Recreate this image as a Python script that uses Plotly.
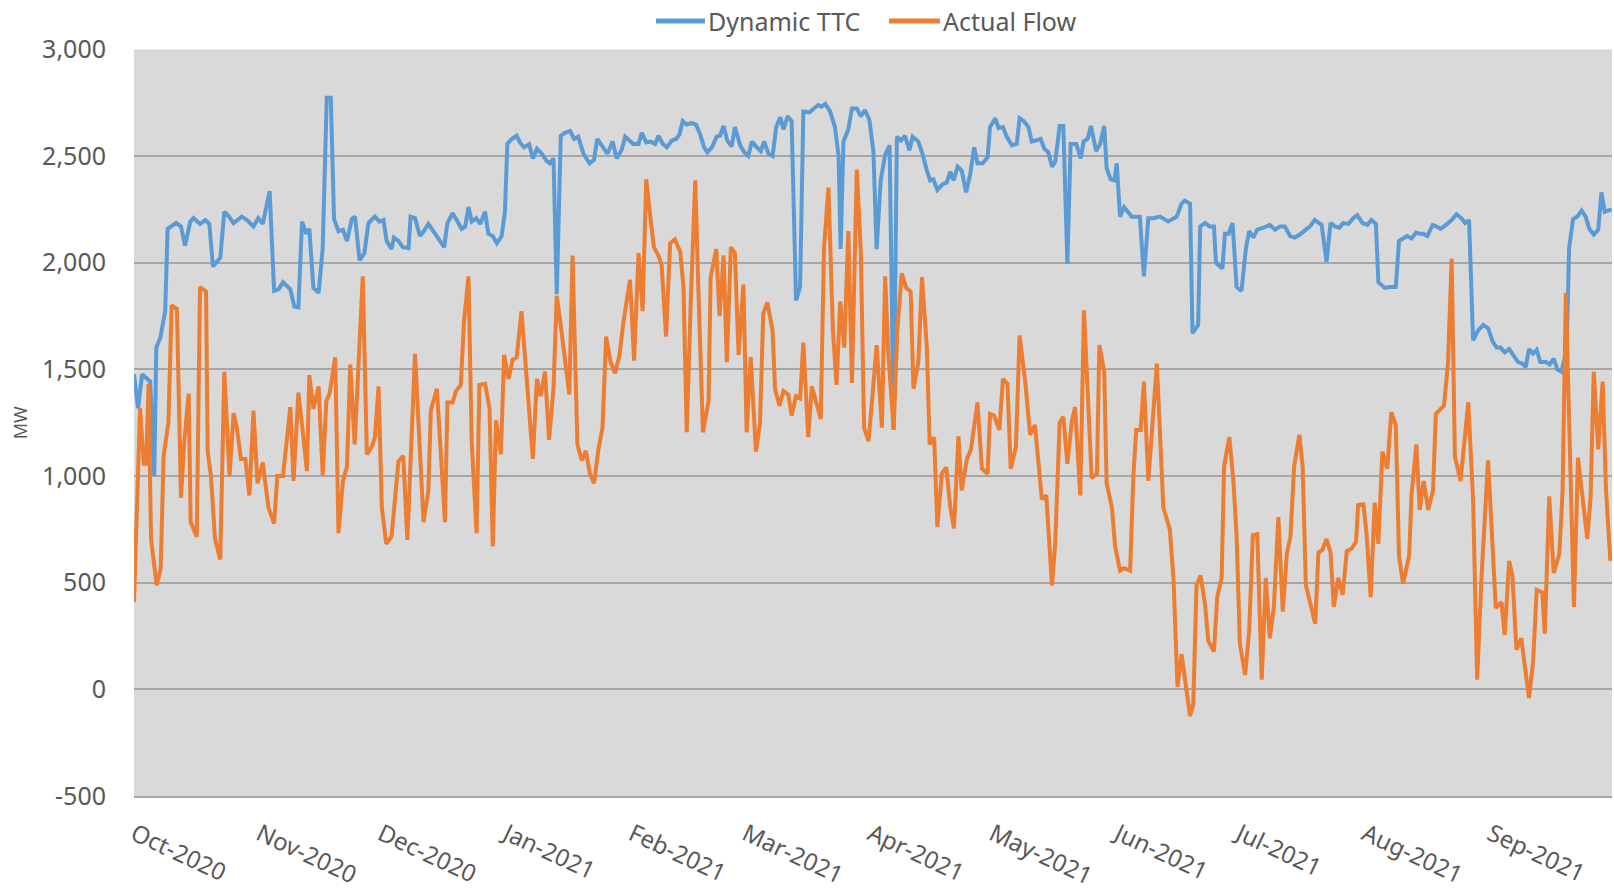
import pandas as pd
import plotly.graph_objects as go

# ---- data (day offset from 2020-10-01, MW) ----
start_date = "2020-10-01"

ttc_day = [0, 1, 2, 4, 5, 5.5, 6.5, 7.7, 8.3, 9.3, 10.4, 11.6, 12.6, 13.9, 14.7, 16.3, 17.6, 18.6, 19.5, 21.3,
           22.3, 23.3, 24.6, 26.6, 27.9, 29.5, 30.7, 31.8, 33.5, 34.6, 35.7, 36.8, 38.6, 39.6, 40.6, 41.5, 42.5, 43.3,
           44.3, 45.6, 46.6, 47.6, 48.6, 49.4, 50.5, 51.6, 52.6, 53.8, 54.6, 55.7, 56.9, 57.9, 59.5,
           60.6, 61.6, 62.4, 63.6, 64.2, 65.3, 66.4, 67.8, 68.3, 69.4, 70.6, 71.6, 72.7, 73.9, 75.2, 76.6, 77.4, 78.7,
           79.9, 80.9, 81.8, 82.6, 83.4, 84.5, 85.5, 86.7, 87.5, 88.6, 89.6, 90.8, 91.6, 92.2, 93.3, 94.5, 95.3, 96.3,
           97.6, 98.5, 99.5, 100.7, 101.9, 102.7, 103.6, 104.4, 105.4, 106.4, 107.7, 108.7, 109.7, 111, 112.5, 113.6,
           114.4, 115.7, 116.9, 118.2, 119.2, 120.4,
           121.3, 123.3, 124.6, 125.4, 126.5, 127.5, 128.7, 129.5, 130.6, 131.6, 132.8, 133.9, 134.7, 135.5, 136.5,
           137.7, 138.8, 139.8, 140.8, 141.6, 142.7, 143.9, 144.7, 145.6, 146.5, 147.6, 148.4, 149.7, 150.7, 151.7,
           152.6, 153.8, 154.8, 155.6, 156.7, 157.7, 158.6, 159.6, 160.4, 161.4, 162.4, 163.5, 164.5, 165.3, 166.8,
           167.9, 169, 169.8, 170.7, 171.9, 173.1, 174, 174.5, 175.2, 176.4, 177.3, 178.5, 179.5, 180.5, 181.6, 182.6,
           183.4, 184.4, 185.5, 186.6, 187.6, 188.4, 189.4, 190.4, 191.5, 192.3, 193.7, 194.8, 195.8, 196.6, 197.4,
           198.4, 199.7, 200.7, 201.6, 202.4, 203.4, 204.4, 205.5, 206.5, 207.5, 208.3, 209.6, 210.8, 211.4, 212.7,
           213.5, 214.6, 215.5, 216.8, 218, 218.7, 219.7, 220.9, 221.7, 223, 223.9, 224.8, 225.8, 226.7, 227.5, 228.6,
           229.5, 230.5, 231.3, 232.7, 233.8, 234.5, 235.5, 236.3, 237.6, 238.6, 239.6, 240.2, 241.2, 242.1, 242.7,
           243.5, 244.5,
           246.4, 248.4, 249.4, 250.5, 251.7, 253.4, 255.4, 257.5, 258.7, 259.5, 260.8, 261.4, 262.8, 263.3, 264.5,
           265.6, 266.7, 267.2, 268.8, 269.4, 270.3, 271.3, 272.3, 273.5, 274.6, 275.4, 276.4, 277.4, 278.9, 280.5,
           281.8, 283, 284.2, 285.5, 286.7, 287.9, 289.4, 290.4, 291.6, 293.3, 294.5, 295.5, 296.6, 297.7, 298.6,
           299.9, 301.1, 302.1, 303.4, 304.6, 305.6,
           306.7, 307.3, 308.9, 310.1, 311.6, 312.4, 313.4, 314.4, 315.5, 316.6, 317.5, 318.4, 319.4, 320.7, 321.7,
           322.7, 324, 325.4, 326.6, 327.8, 328.7, 329.7, 330.7, 331.9, 333.2, 334.4, 335.5, 336.5, 337.5, 338.5,
           339.6, 340.8, 341.8, 342.9, 343.7, 344.5, 345.5, 346.4, 347.3, 348.7, 349.6, 350.6, 351.5, 352.5, 353.8,
           354.4, 355.4, 356.4, 357.5, 358.5, 359.4, 360.5, 361.6, 362.4, 363.2, 364.9]

ttc_mw = [1477, 1318, 1477, 1443, 1000, 1602, 1648, 1773, 2159, 2170, 2186, 2170, 2080, 2193, 2209, 2182, 2200, 2182,
          1982, 2023, 2239, 2220, 2186, 2216, 2200, 2170, 2209, 2182, 2336, 1868, 1875, 1909, 1875, 1795, 1791, 2193,
          2136, 2159, 1882, 1859, 2068, 2773, 2773, 2205, 2148, 2155, 2102, 2205, 2216, 2011, 2045, 2186, 2216,
          2193, 2200, 2102, 2064, 2118, 2102, 2073, 2068, 2216, 2209, 2125, 2148, 2182, 2148, 2118, 2073, 2186, 2232,
          2193, 2159, 2170, 2261, 2193, 2209, 2182, 2239, 2136, 2125, 2091, 2125, 2239, 2557, 2580, 2595, 2564, 2541,
          2555, 2489, 2534, 2511, 2477, 2466, 2489, 1852, 2595, 2609, 2618, 2580, 2591, 2511, 2466, 2482, 2580, 2541,
          2511, 2568, 2489, 2527,
          2591, 2557, 2557, 2609, 2564, 2568, 2557, 2595, 2557, 2541, 2573, 2580, 2602, 2664, 2648, 2655, 2648, 2602,
          2541, 2518, 2541, 2591, 2595, 2641, 2573, 2545, 2636, 2550, 2518, 2500, 2568, 2541, 2523, 2568, 2511, 2500,
          2636, 2682, 2625, 2686, 2664, 1823, 1886, 2709, 2705, 2723, 2739, 2732, 2745, 2709, 2636, 2500, 2064, 2568,
          2625, 2723, 2723, 2686, 2716, 2670, 2523,
          2064, 2386, 2505, 2550, 1216, 2591, 2573, 2595, 2527, 2591, 2568, 2505, 2432, 2386, 2391, 2341, 2368, 2375,
          2427, 2386, 2450, 2432, 2330, 2414, 2541, 2466, 2466, 2495, 2636, 2677, 2632, 2636, 2591, 2550, 2557, 2677,
          2664, 2636, 2568, 2573, 2580, 2534, 2518, 2450, 2473, 2641, 2641, 1995, 2557, 2557, 2489, 2568, 2580, 2641,
          2523, 2557, 2641, 2443, 2391, 2386, 2466, 2216, 2261,
          2216, 2216, 1936, 2209, 2209, 2216, 2193, 2216, 2277, 2291, 2277, 1670, 1709, 2170, 2186, 2170, 2170, 2000,
          1973, 2136, 2136, 2186, 1886, 1868, 2068, 2148, 2118, 2155, 2164, 2177, 2155, 2170, 2170, 2125, 2118, 2132,
          2155, 2170, 2200, 2177, 2005, 2186, 2170, 2164, 2186, 2182, 2209, 2223, 2186, 2177, 2200,
          2182, 1909, 1882, 1886, 1886, 2102, 2114, 2125, 2114, 2141, 2136, 2136, 2125, 2177, 2170, 2159, 2177, 2200,
          2227, 2209, 2186, 2200, 1636, 1682, 1709, 1693, 1632, 1602, 1602, 1580, 1595, 1564, 1534, 1527, 1511, 1595,
          1573, 1591, 1534, 1534, 1523, 1550, 1500, 1489, 1591, 2068, 2205, 2216, 2245, 2216, 2159, 2132, 2155, 2330,
          2239, 2250]

flow_day = [0, 1.5, 2.4, 3, 3.6, 4.2, 5.6, 6.6, 7.3, 8.5, 9.3, 10.6, 11.6, 12.4, 13.5, 14, 15.5, 16.3, 17.8, 18.2,
            19, 20, 21.3, 22.3, 23.6, 24.6, 25.4, 26.4, 27.5, 28.5, 29.5, 30.5, 31.8, 33.2, 34.6, 35.4, 36.8, 38.6,
            39.4, 40.6, 41.9, 42.7, 43.3, 44.3, 45.6, 46.6, 47.5, 48.3, 49.7, 50.5, 51.6, 52.6, 53.4, 54.5, 55.5,
            56.5, 57.5, 58.7, 59.5,
            60.4, 61.2, 62.3, 63.6, 65.3, 66.5, 67.5, 69.4, 71.5, 72.7, 73.3, 74.8, 76.8, 77.4, 78.7, 79.5, 80.7,
            81.5, 82.6, 83.4, 84.6, 85.3, 86.7, 87.8, 88.6, 89.4, 90.6, 91.4, 92.5, 93.5, 94.5, 95.7, 97.1, 98.5,
            99.5, 100.4, 101.5, 102.5, 103.6, 104.4, 105.4, 106.7, 107.5, 108.3, 109.5, 110.6, 111.6, 112.6, 113.6,
            114.7, 115.7, 116.6, 117.7, 118.8, 119.9, 120.9,
            122.5, 123.5, 124.6, 125.6, 126.5, 127.5, 128.4, 129.5, 130.3, 131.4, 132.4, 133.6, 134.9, 135.7, 136.5,
            137.5, 138.6, 139.4, 140.5, 141.9, 142.4, 143.8, 144.6, 145.6, 146.4, 147.4, 148.4, 149.3, 150.5, 151.3,
            152.3, 153.6, 154.6, 155.4, 156.4, 157.7, 158.3, 159.4, 160.4, 161.6, 162.4, 163.5, 164.5, 165.3, 166.5,
            167.4, 168.6, 169.6, 170.4, 171.5, 172.6, 173.5, 174.4, 175.4, 176.4, 177.3, 178.5, 179.5, 180.3, 181.4,
            182.4,
            183.4, 184.7, 185.5, 186.3, 187.6, 188.5, 189.6, 190.7, 191.8, 192.5, 193.7, 194.6, 195.8, 196.5, 197.6,
            198.4, 199.5, 200.6, 201.6, 202.5, 203.6, 204.4, 205.7, 206.7, 207.5, 208.3, 209.4, 210.8, 211.4, 212.4,
            213.7, 214.6, 215.7, 216.5, 217.8, 218.7, 220.1, 221.3, 222.5, 224.2, 225.3, 226.7, 227.5, 228.6, 229.5,
            230.5, 231.6, 232.4, 233.7, 234.6, 236.5, 237.8, 238.4, 239.6, 240.2, 241.5, 242.3, 243.5, 244.5,
            246, 246.8, 247.5, 248.6, 249.4, 250.5, 251.3, 252.6, 254.2, 255.8, 256.7, 257.7, 258.7, 259.8, 260.8,
            261.6, 262.4, 263.4, 264.5, 265.3, 266.7, 267.5, 268.6, 269.2, 270.5, 271.5, 272.3, 273.1, 274.4, 275.4,
            276.3, 277.4, 278.5, 279.5, 280.5, 281.5, 282.6, 283.7, 284.7, 285.6, 286.5, 287.8, 288.6, 289.4, 290.6,
            291.7, 292.5, 293.5, 294.5, 295.5, 296.3, 297.4, 298.5, 299.5, 300.7, 301.8, 302.3, 303.6, 304.4, 305.4,
            306.4, 307.3, 308.3, 309.5, 310.5, 311.6, 312.4, 313.4, 314.9, 315.5, 316.7, 317.5, 318.5, 319.6, 320.8,
            321.5, 323.5, 324.5, 325.4, 326.2, 327.6, 329.5, 330.7, 331.7, 332.8, 334.4, 336.3, 337.7, 338.5, 339.6,
            340.4, 341.4, 342.6, 344.5, 345.5, 346.4, 347.8, 348.4, 349.5, 350.6, 352, 352.8, 353.6, 355.6, 356.6,
            357.7, 358.9, 359.7, 360.5, 361.6, 362.7, 363.5, 364.6]

flow_mw = [409, 1318, 1057, 1057, 1432, 705, 488, 568, 1091, 1250, 1800, 1784, 898, 1159, 1386, 784, 716, 1886, 1864,
           1114, 1000, 705, 609, 1489, 1000, 1295, 1227, 1080, 1080, 909, 1307, 966, 1064, 852, 777, 1000, 1000, 1323,
           977, 1391, 1170, 1023, 1473, 1314, 1420, 1004, 1352, 1386, 1557, 732, 977, 1045, 1523, 1148, 1545, 1936,
           1102, 1136, 1182,
           1420, 852, 682, 716, 1068, 1095, 700, 1573, 784, 932, 1307, 1409, 784, 1345, 1345, 1398, 1427, 1727, 1936,
           1159, 732, 1427, 1432, 1318, 670, 1261, 1102, 1568, 1455, 1545, 1557, 1773, 1432, 1080, 1455, 1375, 1489,
           1170, 1409, 1845, 1705, 1500, 1382, 2034, 1148, 1073, 1118, 1011, 966, 1125, 1227, 1654, 1534, 1482, 1568,
           1727,
           1920, 1541, 2045, 1773, 2391, 2216, 2073, 2034, 1989, 1654, 2091, 2109, 2050, 1886, 1205, 1818, 2386, 1864,
           1205, 1352, 1932, 2064, 1750, 2034, 1534, 2073, 2045, 1568, 1898, 1205, 1557, 1114, 1250, 1761, 1814, 1682,
           1409, 1330, 1398, 1382, 1284, 1375, 1364, 1625, 1182, 1420, 1341, 1268, 2068, 2352, 1682, 1427, 1818, 1602,
           2148, 1436, 2436, 2045, 1227, 1164, 1386,
           1614, 1227, 1936, 1568, 1216, 1682, 1950, 1882, 1864, 1409, 1534, 1932, 1602, 1148, 1182, 761, 1011, 1041,
           852, 754, 1186, 932, 1080, 1125, 1227, 1345, 1034, 1011, 1291, 1284, 1216, 1455, 1432, 1034, 1136, 1659,
           1443, 1193, 1239, 891, 909, 488, 682, 1250, 1277, 1057, 1255, 1323, 909, 1777, 989, 1011, 1614, 1489, 966,
           852, 670, 557, 568,
           557, 1000, 1216, 1216, 1443, 977, 1182, 1527, 852, 750, 523, 11, 164, 23, -125, -68, 489, 534, 398, 227,
           177, 432, 523, 1045, 1182, 977, 716, 216, 68, 273, 723, 727, 45, 523, 239, 386, 807, 364, 636, 716, 1045,
           1193, 1045, 489, 386, 307, 641, 655, 705, 641, 386, 523, 443, 648, 659, 693, 864, 868, 727, 432,
           875, 682, 1114, 1034, 1300, 1239, 625, 495, 625, 914, 1148, 841, 977, 841, 932, 1291, 1330, 1527, 2018,
           1091, 977, 1345, 886, 45, 534, 1073, 382, 409, 255, 602, 534, 186, 239, -41, 125, 466, 455, 261, 905, 545,
           636, 932, 1859, 386, 1086, 898, 705, 898, 1489, 1125, 1443, 943, 602]

month_ticks = ["2020-10-01", "2020-11-01", "2020-12-01", "2021-01-01", "2021-02-01", "2021-03-01",
               "2021-04-01", "2021-05-01", "2021-06-01", "2021-07-01", "2021-08-01", "2021-09-01"]
month_labels = ["Oct-2020", "Nov-2020", "Dec-2020", "Jan-2021", "Feb-2021", "Mar-2021",
                "Apr-2021", "May-2021", "Jun-2021", "Jul-2021", "Aug-2021", "Sep-2021"]
y_ticks = [-500, 0, 500, 1000, 1500, 2000, 2500, 3000]
y_labels = ["-500", "0", "500", "1,000", "1,500", "2,000", "2,500", "3,000"]
series_names = ["Dynamic TTC", "Actual Flow"]
series_colors = ["#5B9BD5", "#ED7D31"]

# ---- build ----
t0 = pd.Timestamp(start_date)
ttc_x = [t0 + pd.Timedelta(days=d) for d in ttc_day]
flow_x = [t0 + pd.Timedelta(days=d) for d in flow_day]

FONT = "Noto Sans"
GREY_TXT = "#595959"
GRID = "#A6A6A6"

W, H = 1614, 893
M_L, M_R, M_T, M_B = 134, 2, 0, 97
plot_top_px = 49.4
paper_w = W - M_L - M_R
paper_h = H - M_T - M_B
y_dom_top = 1 - plot_top_px / paper_h


def px_x(px):
    return (px - M_L) / paper_w


def px_y(py):
    return 1 - (py - M_T) / paper_h


fig = go.Figure()
fig.add_trace(go.Scatter(x=ttc_x, y=ttc_mw, mode="lines", name=series_names[0],
                         line=dict(color=series_colors[0], width=4)))
fig.add_trace(go.Scatter(x=flow_x, y=flow_mw, mode="lines", name=series_names[1],
                         line=dict(color=series_colors[1], width=4)))

# legend drawn as line samples + labels (Excel-style, long sample touching the text)
legend_y = px_y(21)
legend_items = [(656, 705, 707), (889, 940, 942)]
for (x0, x1, xt), name, col in zip(legend_items, series_names, series_colors):
    fig.add_shape(type="line", xref="paper", yref="paper", x0=px_x(x0), x1=px_x(x1),
                  y0=legend_y, y1=legend_y, line=dict(color=col, width=5))
    fig.add_annotation(text=name, xref="paper", yref="paper", x=px_x(xt), y=legend_y,
                       xanchor="left", yanchor="middle", showarrow=False,
                       font=dict(family=FONT, size=25, color=GREY_TXT), borderpad=0)

fig.update_layout(
    width=W, height=H,
    margin=dict(l=M_L, r=M_R, t=M_T, b=M_B),
    paper_bgcolor="white",
    plot_bgcolor="#D9D9D9",
    font=dict(family=FONT, color=GREY_TXT, size=25),
    showlegend=False,
    xaxis=dict(
        type="date",
        range=[t0, t0 + pd.Timedelta(days=365)],
        tickvals=month_ticks, ticktext=month_labels,
        tickangle=25,
        showgrid=False, zeroline=False,
        showline=True, linecolor=GRID, linewidth=2,
        ticks="outside", ticklen=13, tickcolor="rgba(0,0,0,0)",
        tickfont=dict(family=FONT, size=24, color=GREY_TXT),
        automargin=False,
    ),
    yaxis=dict(
        range=[-500, 3000],
        domain=[0, y_dom_top],
        tickvals=y_ticks, ticktext=y_labels,
        showgrid=True, gridcolor=GRID, gridwidth=2,
        zeroline=False, showline=False,
        ticks="outside", ticklen=22, tickcolor="rgba(0,0,0,0)",
        tickfont=dict(family=FONT, size=25, color=GREY_TXT),
        title=dict(text="MW", font=dict(family=FONT, size=18, color=GREY_TXT), standoff=9),
        automargin=False,
    ),
)

fig.write_html(
    "out.html",
    config={"displayModeBar": False},
    post_script="document.body.style.margin='0px';document.body.style.overflow='hidden';",
)
